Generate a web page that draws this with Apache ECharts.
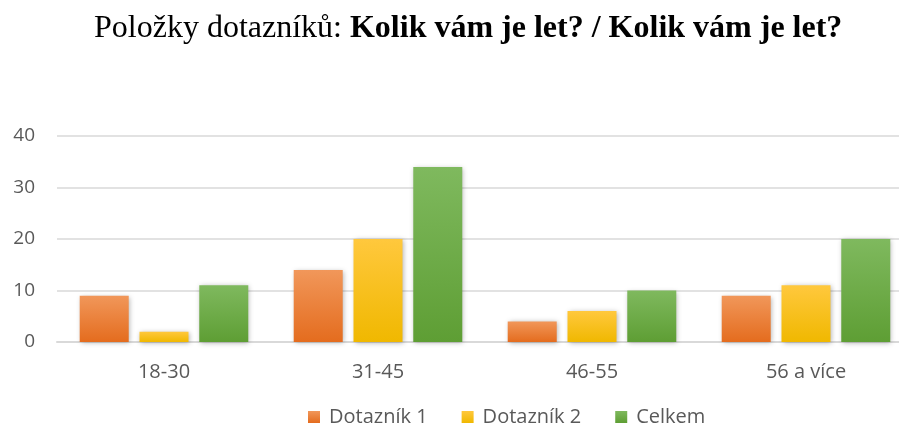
<!DOCTYPE html>
<html>
<head>
<meta charset="utf-8">
<script src="https://cdn.jsdelivr.net/npm/echarts@6/dist/echarts.min.js"></script>
<style>
  html, body { margin: 0; padding: 0; background: #fff; }
  #chart { width: 899px; height: 423px; }
</style>
</head>
<body>
<div id="chart"></div>
<script>
const categories = ["18-30", "31-45", "46-55", "56 a více"];
const dotaznik1 = [9, 14, 4, 9];
const dotaznik2 = [2, 20, 6, 11];
const celkem = [11, 34, 10, 20];

function grad(top, bottom) {
  return new echarts.graphic.LinearGradient(0, 0, 0, 1, [
    { offset: 0, color: top },
    { offset: 1, color: bottom },
  ]);
}

function barSeries(name, data, top, bottom) {
  return {
    name: name,
    type: "bar",
    data: data,
    barWidth: 49,
    barGap: "22%",
    itemStyle: {
      color: grad(top, bottom),
      shadowColor: "rgba(0,0,0,0.3)",
      shadowBlur: 5,
      shadowOffsetX: 1,
      shadowOffsetY: 1,
    },
  };
}

const chart = echarts.init(document.getElementById("chart"));
chart.setOption({
  animation: false,
  color: ["#ED7D31", "#FFC000", "#70AD47"],
  title: {
    left: 89,
    top: 8,
    text: "{n|Položky dotazníků: }{b|Kolik vám je let? / Kolik vám je let?}",
    textStyle: {
      rich: {
        n: { fontFamily: "Liberation Serif", fontSize: 32, fontWeight: "normal", color: "#000" },
        b: { fontFamily: "Liberation Serif", fontSize: 32, fontWeight: "bold", color: "#000" },
      },
    },
  },
  legend: {
    top: 402,
    left: 303,
    itemWidth: 12,
    itemHeight: 12,
    itemGap: 34,
    icon: "rect",
    textStyle: { fontFamily: "Open Sans", fontSize: 20, color: "#595959", padding: [0, 0, 0, 4] },
    data: ["Dotazník 1", "Dotazník 2", "Celkem"],
  },
  grid: { left: 57, width: 856, top: 136, bottom: 81, outerBoundsMode: "none" },
  xAxis: {
    type: "category",
    data: categories,
    axisLine: { lineStyle: { color: "#d9d9d9", width: 2 } },
    axisTick: { show: false },
    axisLabel: { fontFamily: "Open Sans", fontSize: 20, color: "#595959", margin: 20 },
  },
  yAxis: {
    type: "value",
    min: 0,
    max: 40,
    interval: 10,
    axisLine: { show: false },
    axisTick: { show: false },
    splitLine: { lineStyle: { color: "#d9d9d9", width: 1.5 } },
    axisLabel: { fontFamily: "Open Sans", fontSize: 19, color: "#595959", margin: 22 },
  },
  series: [
    barSeries("Dotazník 1", dotaznik1, "#F1975A", "#E46C1E"),
    barSeries("Dotazník 2", dotaznik2, "#FFC83D", "#F0B800"),
    barSeries("Celkem", celkem, "#7FB95E", "#5E9E34"),
  ],
});
</script>
</body>
</html>
